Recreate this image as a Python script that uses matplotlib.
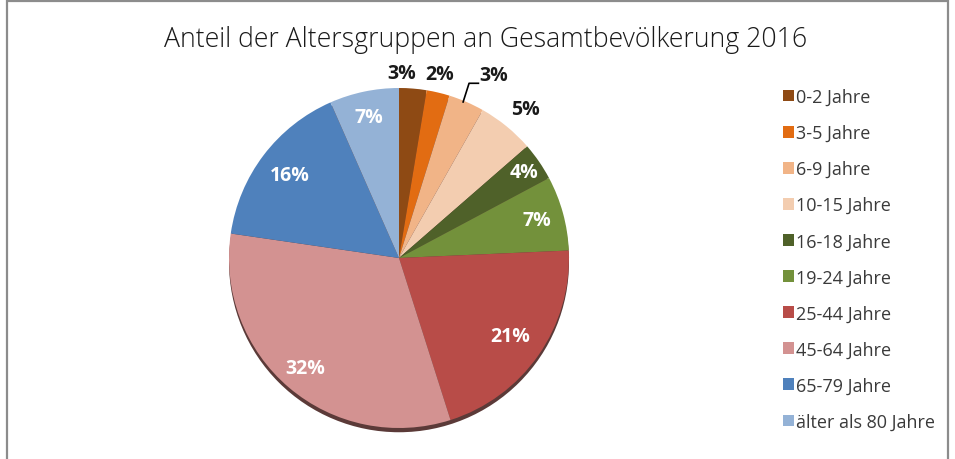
import matplotlib
matplotlib.use("Agg")
import matplotlib.pyplot as plt
import numpy as np
from matplotlib.patches import Patch, Rectangle, Circle

plt.rcParams["font.family"] = ["Open Sans", "DejaVu Sans"]

# data (shares in %)
groups = ["0-2 Jahre", "3-5 Jahre", "6-9 Jahre", "10-15 Jahre", "16-18 Jahre",
          "19-24 Jahre", "25-44 Jahre", "45-64 Jahre", "65-79 Jahre",
          "älter als 80 Jahre"]
shares = [2.6, 2.2, 3.4, 5.4, 3.6, 7.1, 20.8, 32.2, 16.1, 6.6]
title = "Anteil der Altersgruppen an Gesamtbevölkerung 2016"

colors = ["#8E4A14", "#E26C12", "#F1B487", "#F3CDB0", "#4F6129",
          "#73913B", "#B84C48", "#D39291", "#4F81BC", "#94B2D6"]
# label placement: (radius, angle nudge in degrees); outside labels are dark
label_pos = [(1.09, -4), (1.11, -1), (1.21, 4), (1.15, 1), (0.89, 0),
             (0.84, 0), (0.80, 0), (0.85, 0), (0.81, 0), (0.85, 0)]
outside = [True, True, True, True, False, False, False, False, False, False]

fig = plt.figure(figsize=(9.55, 4.6), dpi=100)

# frame around the chart area
fig.patches.append(Rectangle((7 / 955, -0.1), 941 / 955, 1.1 - 2 / 460,
                             transform=fig.transFigure, fill=False,
                             ec="#8c8c8c", lw=1.6))

R = 170
cx, cy = 399, 259
w = 2.6 * R
ax = fig.add_axes([(cx - w / 2) / 955, (460 - cy - w / 2) / 460, w / 955, w / 460])

# soft shadow under the pie
ax.add_patch(Circle((0.0, -0.025), 1.0, color="#5b3a38", lw=0, zorder=0))

wedges, _ = ax.pie(shares, colors=colors, startangle=90, counterclock=False,
                   radius=1.0, wedgeprops=dict(lw=0))
for wdg in wedges:
    wdg.set_zorder(2)
ax.set_xlim(-1.3, 1.3)
ax.set_ylim(-1.3, 1.3)
ax.axis("off")

total = sum(shares)
cum = 0.0
for i, v in enumerate(shares):
    mid = (cum + v / 2) / total * 360
    cum += v
    r, nudge = label_pos[i]
    a = np.deg2rad(90 - (mid + nudge))
    x, y = r * np.cos(a), r * np.sin(a)
    ax.text(x, y, f"{v:.0f}%", ha="center", va="center", fontsize=14,
            fontweight="bold", color="#1a1a1a" if outside[i] else "white",
            zorder=5)
    if i == 2:
        am = np.deg2rad(90 - mid)
        x0, y0 = np.cos(am), np.sin(am)
        ax.plot([x0 - 0.02, x0 + 0.015, x0 + 0.07], [y0, y0 + 0.11, y0 + 0.11],
                color="black", lw=1.2, zorder=5, clip_on=False)

fig.text(0.508, 0.913, title, ha="center", va="center", fontsize=19.2,
         fontweight="light", color="#1a1a1a")

handles = [Patch(facecolor=c, edgecolor="none") for c in colors]
fig.legend(handles, groups, loc="upper left", bbox_to_anchor=(0.812, 0.822),
           frameon=False, fontsize=13, handlelength=0.6, handleheight=0.6,
           handletextpad=0.15, labelspacing=1.0, borderaxespad=0,
           labelcolor="#3a3a3a")

fig.savefig("out.png", dpi=100)
